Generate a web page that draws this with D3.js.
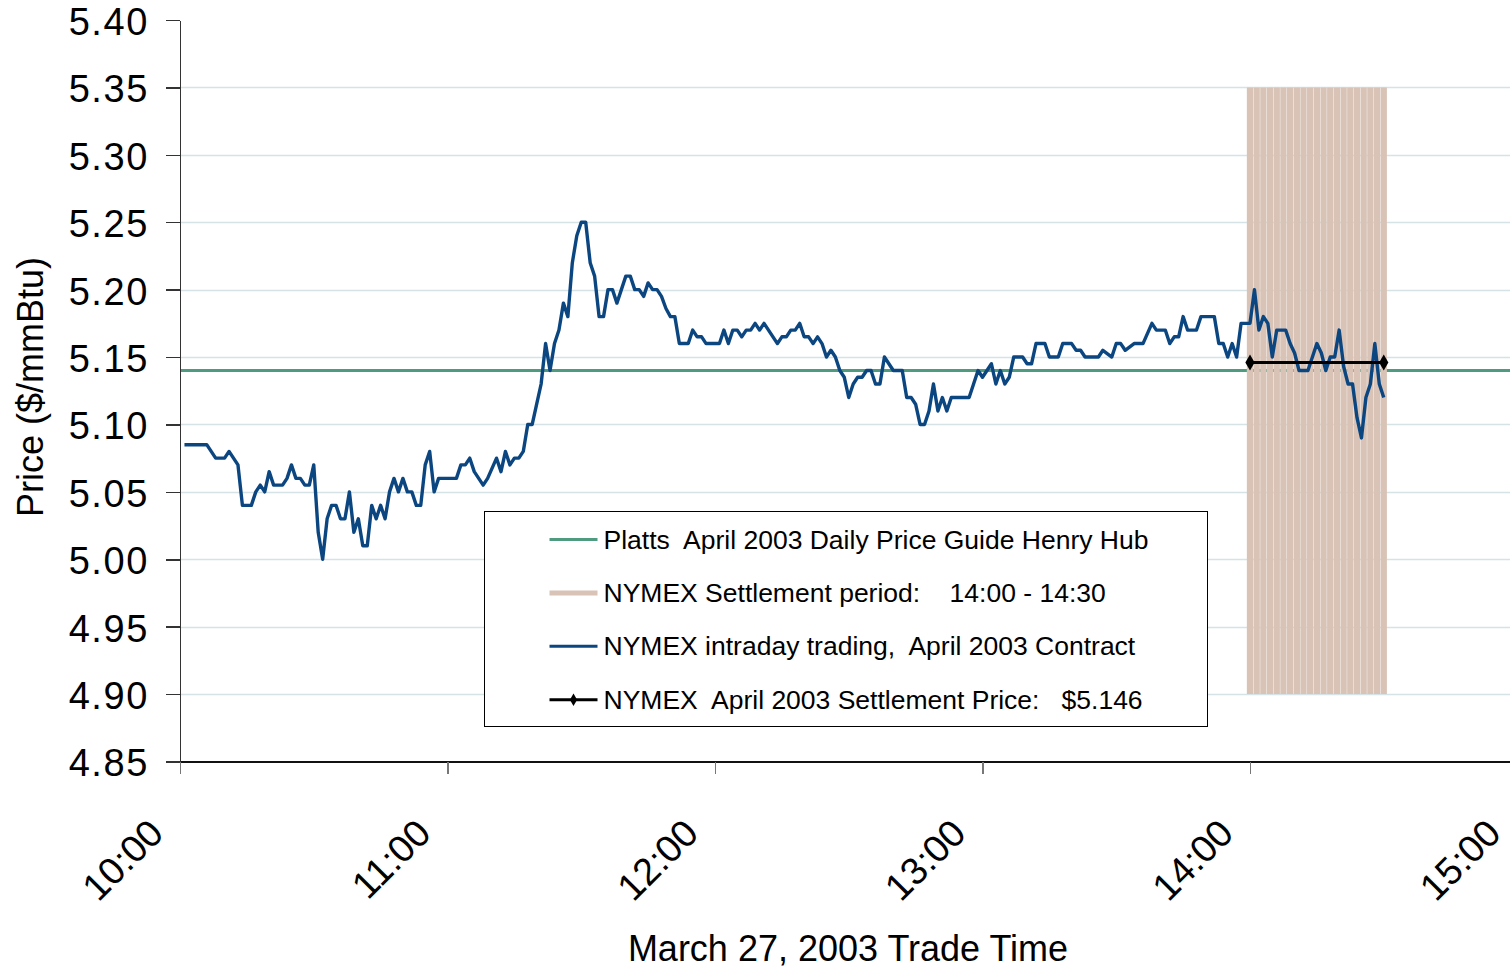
<!DOCTYPE html>
<html>
<head>
<meta charset="utf-8">
<script src="https://cdn.jsdelivr.net/npm/d3@7"></script>
<style>
  body { margin: 0; background: #fff; }
  svg { display: block; font-family: "Liberation Sans", Arial, sans-serif; }
  .axis path, .axis line { shape-rendering: crispEdges; }
</style>
</head>
<body>
<div id="chart"></div>
<script>
// minutes after 10:00 and NYMEX intraday price ($/mmBtu)
var tradeMinutes = [1,6,7,8,10,11,12,13,14,16,17,18,19,20,21,23,24,25,26,27,28,29,30,31,32,33,34,35,36,37,38,39,40,41,42,43,44,45,46,47,48,49,50,51,52,53,54,55,56,57,58,62,63,64,65,66,68,69,71,72,73,74,75,76,77,78,79,80,81,82,83,84,85,86,87,88,89,90,91,92,93,94,95,96,97,98,99,100,101,102,103,104,105,106,107,108,109,110,111,112,114,115,116,117,118,121,122,123,124,125,126,127,128,129,130,131,134,135,136,137,138,139,140,141,142,143,144,145,146,147,148,149,150,151,152,153,154,155,156,157,158,160,162,163,164,165,166,167,168,169,170,171,172,173,177,178,179,180,182,183,184,185,186,187,189,190,191,192,194,195,197,198,200,201,202,203,206,207,209,210,211,212,214,216,218,219,221,222,223,224,225,226,228,229,232,233,234,235,236,237,238,240,241,242,243,244,245,246,248,249,250,251,253,254,255,256,257,258,259,260,261,262,263,264,265,266,267,268,269,270]
var tradePrices = [5.085,5.085,5.08,5.075,5.075,5.08,5.075,5.07,5.04,5.04,5.05,5.055,5.05,5.065,5.055,5.055,5.06,5.07,5.06,5.06,5.055,5.055,5.07,5.02,5.00,5.03,5.04,5.04,5.03,5.03,5.05,5.02,5.03,5.01,5.01,5.04,5.03,5.04,5.03,5.05,5.06,5.05,5.06,5.05,5.05,5.04,5.04,5.07,5.08,5.05,5.06,5.06,5.07,5.07,5.075,5.065,5.055,5.06,5.075,5.065,5.08,5.07,5.075,5.075,5.08,5.10,5.10,5.115,5.13,5.16,5.14,5.16,5.17,5.19,5.18,5.22,5.24,5.25,5.25,5.22,5.21,5.18,5.18,5.20,5.20,5.19,5.20,5.21,5.21,5.20,5.20,5.195,5.205,5.20,5.20,5.195,5.186,5.18,5.18,5.16,5.16,5.17,5.165,5.165,5.16,5.16,5.17,5.16,5.17,5.17,5.165,5.17,5.17,5.175,5.17,5.175,5.16,5.165,5.165,5.17,5.17,5.175,5.165,5.165,5.16,5.165,5.16,5.15,5.155,5.15,5.14,5.135,5.12,5.13,5.135,5.135,5.14,5.14,5.13,5.13,5.15,5.14,5.14,5.12,5.12,5.115,5.10,5.10,5.11,5.13,5.11,5.12,5.11,5.12,5.12,5.13,5.14,5.135,5.145,5.13,5.14,5.13,5.135,5.15,5.15,5.145,5.145,5.16,5.16,5.15,5.15,5.16,5.16,5.155,5.155,5.15,5.15,5.155,5.15,5.16,5.16,5.155,5.16,5.16,5.175,5.17,5.17,5.16,5.165,5.165,5.18,5.17,5.17,5.18,5.18,5.16,5.16,5.15,5.16,5.15,5.175,5.175,5.20,5.17,5.18,5.175,5.15,5.17,5.17,5.16,5.153,5.14,5.14,5.15,5.16,5.153,5.14,5.15,5.15,5.17,5.143,5.13,5.13,5.105,5.09,5.12,5.13,5.16,5.13,5.12]

// Platts daily price guide, Henry Hub
var plattsPrice = 5.14
var plattsMinutes = [0, 300]

// NYMEX settlement period 14:00 - 14:30 (minutes after 10:00)
var settleBarMinutes = [240,241.5,243,244.5,246,247.5,249,250.5,252,253.5,255,256.5,258,259.5,261,262.5,264,265.5,267,268.5,270]
var settleLow = 4.90
var settleHigh = 5.35

// NYMEX settlement price
var settlePrice = 5.146
var settleMinutes = [240, 270]

var yTicks = [4.85,4.90,4.95,5.00,5.05,5.10,5.15,5.20,5.25,5.30,5.35,5.40]
var xTickMinutes = [0,60,120,180,240,300]
var xTickLabels = ["10:00","11:00","12:00","13:00","14:00","15:00"]

var legendLabels = [
  "Platts  April 2003 Daily Price Guide Henry Hub",
  "NYMEX Settlement period:    14:00 - 14:30",
  "NYMEX intraday trading,  April 2003 Contract",
  "NYMEX  April 2003 Settlement Price:   $5.146"
]

var colors = { platts: "#4f9b80", settlePeriod: "#d8c3b6", intraday: "#0b4680", settle: "#000000", grid: "#d5e3e6" }

var width = 1510, height = 968
var svg = d3.select("#chart").append("svg")
  .attr("width", width)
  .attr("height", height)

var x = d3.scaleLinear().domain([0, 300]).range([180, 1517.5])
var y = d3.scaleLinear().domain([4.85, 5.40]).range([761.5, 20])

// gridlines
svg.append("g")
  .selectAll("line")
  .data(yTicks.filter(function(d){ return d > 4.86 && d < 5.39 }))
  .enter().append("line")
  .attr("x1", 180).attr("x2", width)
  .attr("y1", function(d){ return Math.round(y(d)) + 0.5 })
  .attr("y2", function(d){ return Math.round(y(d)) + 0.5 })
  .attr("stroke", colors.grid)
  .attr("stroke-width", 1.5)

// platts line
svg.append("line")
  .attr("x1", x(plattsMinutes[0])).attr("x2", x(plattsMinutes[1]))
  .attr("y1", y(plattsPrice)).attr("y2", y(plattsPrice))
  .attr("stroke", colors.platts)
  .attr("stroke-width", 3)

// settlement period bars
svg.append("g")
  .selectAll("line")
  .data(settleBarMinutes)
  .enter().append("line")
  .attr("x1", function(d){ return x(d) }).attr("x2", function(d){ return x(d) })
  .attr("y1", y(settleLow)).attr("y2", y(settleHigh))
  .attr("stroke", colors.settlePeriod)
  .attr("stroke-width", 6.3)

// intraday line
var tradeData = tradeMinutes.map(function(m, i){ return { m: m, v: tradePrices[i] } })
var lineGen = d3.line()
  .x(function(d){ return x(d.m) })
  .y(function(d){ return y(d.v) })
svg.append("path")
  .attr("d", lineGen(tradeData))
  .attr("fill", "none")
  .attr("stroke", colors.intraday)
  .attr("stroke-width", 3.4)
  .attr("stroke-linejoin", "round")

// settlement price line with diamonds
svg.append("line")
  .attr("x1", x(settleMinutes[0])).attr("x2", x(settleMinutes[1]))
  .attr("y1", y(settlePrice)).attr("y2", y(settlePrice))
  .attr("stroke", colors.settle)
  .attr("stroke-width", 3)
var diamond = d3.symbol().type(d3.symbolDiamond).size(75)
svg.append("g")
  .selectAll("path")
  .data(settleMinutes)
  .enter().append("path")
  .attr("d", diamond)
  .attr("transform", function(d){ return "translate(" + x(d) + "," + y(settlePrice) + ")" })
  .attr("fill", colors.settle)

// axes
var yAxis = d3.axisLeft(y).tickValues(yTicks).tickFormat(d3.format(".2f")).tickSizeInner(14).tickSizeOuter(0).tickPadding(17)
var gy = svg.append("g")
  .attr("class", "axis")
  .attr("transform", "translate(180,0)")
  .call(yAxis)
gy.select(".domain").attr("stroke", "#333").attr("stroke-width", 1.5)
gy.selectAll(".tick line").attr("stroke", "#333").attr("stroke-width", 1.5)
gy.selectAll(".tick text")
  .attr("font-size", 38)
  .attr("letter-spacing", 1.6)
  .attr("font-family", "Liberation Sans, Arial, sans-serif")
  .attr("fill", "#000")
  .attr("dy", "0.38em")

var xAxis = d3.axisBottom(x).tickValues(xTickMinutes)
  .tickFormat(function(d, i){ return xTickLabels[i] })
  .tickSizeInner(12).tickSizeOuter(0)
var gx = svg.append("g")
  .attr("class", "axis")
  .attr("transform", "translate(0," + y(4.85) + ")")
  .call(xAxis)
gx.select(".domain").attr("stroke", "#111").attr("stroke-width", 1.5)
gx.selectAll(".tick line").attr("stroke", "#777").attr("stroke-width", 1.5)
gx.selectAll(".tick text")
  .attr("font-size", 38)
  .attr("font-family", "Liberation Sans, Arial, sans-serif")
  .attr("fill", "#000")
  .attr("text-anchor", "end")
  .attr("y", 0).attr("dy", 0)
  .attr("transform", "translate(-15,74) rotate(-45)")

// axis titles
svg.append("text")
  .attr("x", 848).attr("y", 961)
  .attr("text-anchor", "middle")
  .attr("font-size", 36)
  .text("March 27, 2003 Trade Time")
svg.append("text")
  .attr("transform", "translate(43,387) rotate(-90)")
  .attr("text-anchor", "middle")
  .attr("font-size", 36)
  .text("Price ($/mmBtu)")

// legend
var legend = svg.append("g").attr("transform", "translate(484.5,511.5)")
legend.append("rect")
  .attr("width", 723).attr("height", 215)
  .attr("fill", "#fff")
  .attr("stroke", "#000")
  .attr("stroke-width", 1)
var legendColors = [colors.platts, colors.settlePeriod, colors.intraday, colors.settle]
var legendWidths = [3, 5, 3, 3]
var rows = legend.selectAll(".row")
  .data(legendLabels)
  .enter().append("g")
  .attr("class", "row")
  .attr("transform", function(d, i){ return "translate(0," + (28 + i * 53.4) + ")" })
rows.append("line")
  .attr("x1", 65).attr("x2", 113)
  .attr("stroke", function(d, i){ return legendColors[i] })
  .attr("stroke-width", function(d, i){ return legendWidths[i] })
rows.filter(function(d, i){ return i == 3 }).append("path")
  .attr("d", d3.symbol().type(d3.symbolDiamond).size(45))
  .attr("transform", "translate(89,0)")
  .attr("fill", colors.settle)
rows.append("text")
  .attr("x", 119).attr("y", 9)
  .attr("font-size", 26.5)
  .attr("xml:space", "preserve")
  .style("white-space", "pre")
  .text(function(d){ return d })
</script>
</body>
</html>
